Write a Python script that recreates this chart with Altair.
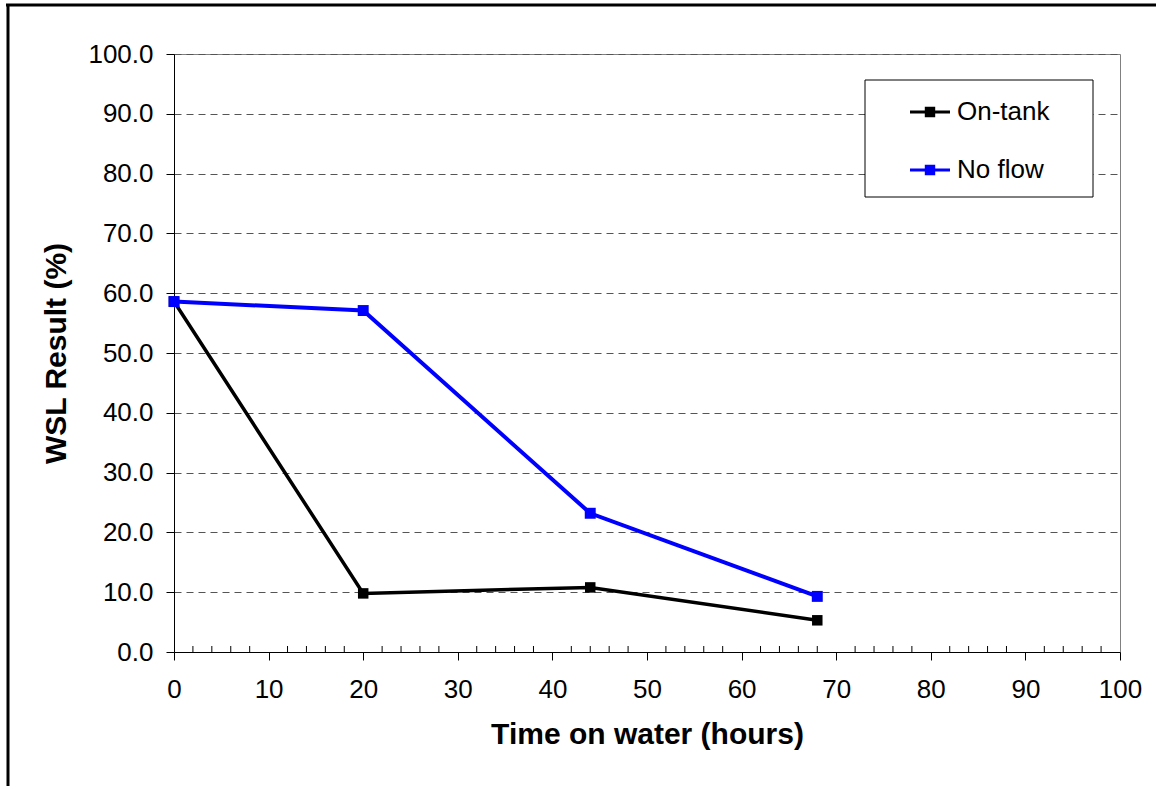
import altair as alt
import pandas as pd

# Time on water (hours) and WSL result (%) for each condition
hours = [0, 20, 44, 68]
on_tank = [58.6, 9.8, 10.8, 5.3]
no_flow = [58.6, 57.1, 23.2, 9.3]

series_names = ["On-tank", "No flow"]
series_colors = ["#000000", "#0000ff"]

x_ticks = list(range(0, 101, 10))
y_ticks = list(range(0, 101, 10))
x_minor = [v for v in range(0, 101, 2) if v % 10 != 0]

df = pd.DataFrame(
    {
        "hours": hours * 2,
        "wsl": on_tank + no_flow,
        "series": ["On-tank"] * len(hours) + ["No flow"] * len(hours),
    }
)

W, H = 946, 598
FONT = "Liberation Sans"

color_scale = alt.Scale(domain=series_names, range=series_colors)
x_scale = alt.Scale(domain=[0, 100], nice=False, zero=False)
y_scale = alt.Scale(domain=[0, 100], nice=False)

x_axis = alt.Axis(
    values=x_ticks,
    title="Time on water (hours)",
    labelFontSize=26,
    titleFontSize=30,
    titleFontWeight="bold",
    titleFont=FONT,
    labelFont=FONT,
    labelColor="black",
    titleColor="black",
    tickColor="black",
    tickSize=8,
    domainColor="black",
    labelPadding=16,
    titlePadding=17,
    grid=False,
    labelFlush=False,
)
y_axis = alt.Axis(
    values=y_ticks,
    format=".1f",
    title="WSL Result (%)",
    labelFontSize=26,
    titleFontSize=30,
    titleFontWeight="bold",
    titleFont=FONT,
    labelFont=FONT,
    labelColor="black",
    titleColor="black",
    tickColor="black",
    tickSize=8,
    domainColor="black",
    labelPadding=13,
    titlePadding=16,
    grid=True,
    gridColor="#555555",
    gridDash=[7, 5],
    gridWidth=1,
    labelFlush=False,
)

legend = alt.Legend(
    title=None,
    orient="none",
    legendX=736,
    legendY=38,
    symbolType="M-1,-0.08H1V0.08H-1Z M-0.26,-0.26H0.26V0.26H-0.26Z",
    symbolSize=1600,
    symbolStrokeWidth=0,
    labelFontSize=26,
    labelFont=FONT,
    labelColor="black",
    labelOffset=7,
    rowPadding=25,
    padding=0,
)

base = alt.Chart(df)


def series_layers(name, width, size):
    sub = base.transform_filter(alt.datum.series == name)
    line = sub.mark_line(strokeWidth=width).encode(
        x=alt.X("hours:Q", scale=x_scale, axis=x_axis),
        y=alt.Y("wsl:Q", scale=y_scale, axis=y_axis),
        color=alt.Color("series:N", scale=color_scale, legend=legend),
    )
    pts = sub.mark_point(shape="square", filled=True, size=size, opacity=1).encode(
        x=alt.X("hours:Q", scale=x_scale),
        y=alt.Y("wsl:Q", scale=y_scale),
        color=alt.Color("series:N", scale=color_scale, legend=legend),
    )
    return [line, pts]


# Minor ticks on the time axis, pointing into the plot
minor = (
    alt.Chart(pd.DataFrame({"m": x_minor}))
    .mark_rule(color="black", strokeWidth=1)
    .encode(
        x=alt.X("m:Q", scale=x_scale),
        y=alt.value(H - 6),
        y2=alt.value(H),
    )
)

# Legend frame
legend_box = (
    alt.Chart(alt.Data(values=[{"k": 1}]))
    .mark_rect(fill="white", stroke="black", strokeWidth=1)
    .encode(
        x=alt.value(691),
        x2=alt.value(919),
        y=alt.value(26),
        y2=alt.value(143),
    )
)

# Outer page frame (top and left edges)
frame_top = (
    alt.Chart(alt.Data(values=[{"k": 1}]))
    .mark_rule(color="black", strokeWidth=3)
    .encode(x=alt.value(-168), x2=alt.value(1000), y=alt.value(-49))
)
frame_left = (
    alt.Chart(alt.Data(values=[{"k": 1}]))
    .mark_rule(color="black", strokeWidth=3)
    .encode(x=alt.value(-166), y=alt.value(-50), y2=alt.value(800))
)

layers = (
    [minor, legend_box]
    + series_layers("On-tank", 3.5, 110)
    + series_layers("No flow", 4, 120)
    + [frame_top, frame_left]
)

chart = (
    alt.layer(*layers)
    .resolve_scale(color="shared")
    .properties(
        width=W,
        height=H,
        padding={"left": 174, "top": 54, "right": 36, "bottom": 134},
        autosize=alt.AutoSizeParams(type="none"),
        background="white",
    )
    .configure_view(stroke="#808080", strokeWidth=1)
)

chart.save("out.html", embed_options={"renderer": "svg", "actions": False})
